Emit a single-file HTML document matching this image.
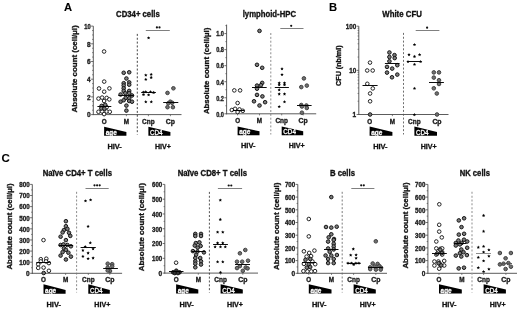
<!DOCTYPE html>
<html><head><meta charset="utf-8"><style>
html,body{margin:0;padding:0;background:#fff;width:520px;height:310px;overflow:hidden}
svg{display:block;font-family:"Liberation Sans", sans-serif;font-weight:bold;filter:blur(0.3px)}
text{stroke:#111;stroke-width:.32px;paint-order:stroke}
text.w{stroke:#fff;stroke-width:.3px}
text.p{stroke:#000;stroke-width:.1px}
</style></head><body>
<svg width="520" height="310" viewBox="0 0 520 310">
<line x1="93.3" y1="26.1" x2="93.3" y2="115.05" stroke="#4a4a4a" stroke-width="0.9"/>
<line x1="91.1" y1="114.6" x2="93.3" y2="114.6" stroke="#4a4a4a" stroke-width="0.8"/>
<text x="90.7" y="117.4" font-size="6.5" text-anchor="end" fill="#222">0</text>
<line x1="91.1" y1="96.9" x2="93.3" y2="96.9" stroke="#4a4a4a" stroke-width="0.8"/>
<text x="90.7" y="99.7" font-size="6.5" text-anchor="end" fill="#222">2</text>
<line x1="91.1" y1="79.2" x2="93.3" y2="79.2" stroke="#4a4a4a" stroke-width="0.8"/>
<text x="90.7" y="82" font-size="6.5" text-anchor="end" fill="#222">4</text>
<line x1="91.1" y1="61.5" x2="93.3" y2="61.5" stroke="#4a4a4a" stroke-width="0.8"/>
<text x="90.7" y="64.3" font-size="6.5" text-anchor="end" fill="#222">6</text>
<line x1="91.1" y1="43.8" x2="93.3" y2="43.8" stroke="#4a4a4a" stroke-width="0.8"/>
<text x="90.7" y="46.6" font-size="6.5" text-anchor="end" fill="#222">8</text>
<line x1="91.1" y1="26.1" x2="93.3" y2="26.1" stroke="#4a4a4a" stroke-width="0.8"/>
<text x="90.7" y="28.9" font-size="6.5" text-anchor="end" textLength="6.4" lengthAdjust="spacingAndGlyphs" fill="#222">10</text>
<line x1="92.1" y1="110.17" x2="93.3" y2="110.17" stroke="#4a4a4a" stroke-width="0.7"/>
<line x1="92.1" y1="105.75" x2="93.3" y2="105.75" stroke="#4a4a4a" stroke-width="0.7"/>
<line x1="92.1" y1="101.32" x2="93.3" y2="101.32" stroke="#4a4a4a" stroke-width="0.7"/>
<line x1="92.1" y1="92.47" x2="93.3" y2="92.47" stroke="#4a4a4a" stroke-width="0.7"/>
<line x1="92.1" y1="88.05" x2="93.3" y2="88.05" stroke="#4a4a4a" stroke-width="0.7"/>
<line x1="92.1" y1="83.62" x2="93.3" y2="83.62" stroke="#4a4a4a" stroke-width="0.7"/>
<line x1="92.1" y1="74.77" x2="93.3" y2="74.77" stroke="#4a4a4a" stroke-width="0.7"/>
<line x1="92.1" y1="70.35" x2="93.3" y2="70.35" stroke="#4a4a4a" stroke-width="0.7"/>
<line x1="92.1" y1="65.92" x2="93.3" y2="65.92" stroke="#4a4a4a" stroke-width="0.7"/>
<line x1="92.1" y1="57.07" x2="93.3" y2="57.07" stroke="#4a4a4a" stroke-width="0.7"/>
<line x1="92.1" y1="52.65" x2="93.3" y2="52.65" stroke="#4a4a4a" stroke-width="0.7"/>
<line x1="92.1" y1="48.22" x2="93.3" y2="48.22" stroke="#4a4a4a" stroke-width="0.7"/>
<line x1="92.1" y1="39.38" x2="93.3" y2="39.38" stroke="#4a4a4a" stroke-width="0.7"/>
<line x1="92.1" y1="34.95" x2="93.3" y2="34.95" stroke="#4a4a4a" stroke-width="0.7"/>
<line x1="92.1" y1="30.52" x2="93.3" y2="30.52" stroke="#4a4a4a" stroke-width="0.7"/>
<line x1="92.85" y1="114.6" x2="181.5" y2="114.6" stroke="#4a4a4a" stroke-width="0.9"/>
<line x1="104.1" y1="114.6" x2="104.1" y2="116.2" stroke="#4a4a4a" stroke-width="0.7"/>
<line x1="126.4" y1="114.6" x2="126.4" y2="116.2" stroke="#4a4a4a" stroke-width="0.7"/>
<line x1="148.4" y1="114.6" x2="148.4" y2="116.2" stroke="#4a4a4a" stroke-width="0.7"/>
<line x1="170.4" y1="114.6" x2="170.4" y2="116.2" stroke="#4a4a4a" stroke-width="0.7"/>
<text x="104.1" y="123.5" font-size="6.6" text-anchor="middle" textLength="4.9" lengthAdjust="spacingAndGlyphs" fill="#1a1a1a">O</text>
<text x="126.4" y="123.5" font-size="6.6" text-anchor="middle" textLength="5.3" lengthAdjust="spacingAndGlyphs" fill="#1a1a1a">M</text>
<text x="148.4" y="123.5" font-size="6.6" text-anchor="middle" textLength="12.6" lengthAdjust="spacingAndGlyphs" fill="#1a1a1a">Cnp</text>
<text x="170.4" y="123.5" font-size="6.6" text-anchor="middle" textLength="9.2" lengthAdjust="spacingAndGlyphs" fill="#1a1a1a">Cp</text>
<line x1="137.3" y1="33.9" x2="137.3" y2="134.5" stroke="#222" stroke-width="0.85" stroke-dasharray="2 1.85"/>
<polygon points="104.1,126.8 126.4,131.9 126.4,135.8 104.1,135.8" fill="#000"/>
<text x="105.7" y="134.8" font-size="7" textLength="11" lengthAdjust="spacingAndGlyphs" fill="#fff" class="w">age</text>
<polygon points="148.4,126.8 170.4,131.9 170.4,135.8 148.4,135.8" fill="#000"/>
<text x="150" y="134.9" font-size="7.2" textLength="12.6" lengthAdjust="spacingAndGlyphs" font-weight="normal" fill="#fff" class="w">CD4</text>
<text x="114.6" y="148.8" font-size="7.6" text-anchor="middle" textLength="14.4" lengthAdjust="spacingAndGlyphs" fill="#111">HIV-</text>
<text x="162.9" y="148.8" font-size="7.6" text-anchor="middle" textLength="16" lengthAdjust="spacingAndGlyphs" fill="#111">HIV+</text>
<line x1="145.8" y1="30.5" x2="169.8" y2="30.5" stroke="#555" stroke-width="0.75"/>
<circle cx="156.9" cy="27.4" r="1.1" fill="#111"/>
<circle cx="159.5" cy="27.4" r="1.1" fill="#111"/>
<text x="116.1" y="16.6" font-size="8.2" textLength="43.7" lengthAdjust="spacingAndGlyphs" fill="#111">CD34+ cells</text>
<text transform="translate(76.9,112.4) rotate(-90)" x="0" y="0" font-size="7.9" textLength="87.1" lengthAdjust="spacingAndGlyphs" fill="#111">Absolute count (cell/µl)</text>
<circle cx="104.1" cy="51.5" r="1.8" fill="#fff" stroke="#222" stroke-width="1.0"/>
<circle cx="104.2" cy="81.6" r="1.8" fill="#fff" stroke="#222" stroke-width="1.0"/>
<circle cx="99" cy="88.5" r="1.8" fill="#fff" stroke="#222" stroke-width="1.0"/>
<circle cx="109.4" cy="88.4" r="1.8" fill="#fff" stroke="#222" stroke-width="1.0"/>
<circle cx="104.2" cy="91.7" r="1.8" fill="#fff" stroke="#222" stroke-width="1.0"/>
<circle cx="98.5" cy="98.6" r="1.8" fill="#fff" stroke="#222" stroke-width="1.0"/>
<circle cx="102.1" cy="97.6" r="1.8" fill="#fff" stroke="#222" stroke-width="1.0"/>
<circle cx="106.7" cy="97.9" r="1.8" fill="#fff" stroke="#222" stroke-width="1.0"/>
<circle cx="109.3" cy="99.4" r="1.8" fill="#fff" stroke="#222" stroke-width="1.0"/>
<circle cx="104.1" cy="101" r="1.8" fill="#fff" stroke="#222" stroke-width="1.0"/>
<circle cx="106.7" cy="107.2" r="1.8" fill="#fff" stroke="#222" stroke-width="1.0"/>
<circle cx="98.5" cy="111.8" r="1.8" fill="#fff" stroke="#222" stroke-width="1.0"/>
<circle cx="102.1" cy="111.5" r="1.8" fill="#fff" stroke="#222" stroke-width="1.0"/>
<circle cx="106.7" cy="111.5" r="1.8" fill="#fff" stroke="#222" stroke-width="1.0"/>
<circle cx="109.8" cy="111.8" r="1.8" fill="#fff" stroke="#222" stroke-width="1.0"/>
<circle cx="104.1" cy="114.1" r="1.8" fill="#fff" stroke="#222" stroke-width="1.0"/>
<circle cx="123.7" cy="72.8" r="1.8" fill="#7c7c7c" stroke="#151515" stroke-width="1.0"/>
<circle cx="129.2" cy="72.3" r="1.8" fill="#7c7c7c" stroke="#151515" stroke-width="1.0"/>
<circle cx="126.4" cy="78.5" r="1.8" fill="#7c7c7c" stroke="#151515" stroke-width="1.0"/>
<circle cx="123.7" cy="83.2" r="1.8" fill="#7c7c7c" stroke="#151515" stroke-width="1.0"/>
<circle cx="129.2" cy="82.4" r="1.8" fill="#7c7c7c" stroke="#151515" stroke-width="1.0"/>
<circle cx="129.2" cy="84.7" r="1.8" fill="#7c7c7c" stroke="#151515" stroke-width="1.0"/>
<circle cx="123.7" cy="85.5" r="1.8" fill="#7c7c7c" stroke="#151515" stroke-width="1.0"/>
<circle cx="123.7" cy="88.3" r="1.8" fill="#7c7c7c" stroke="#151515" stroke-width="1.0"/>
<circle cx="123.7" cy="90.9" r="1.8" fill="#7c7c7c" stroke="#151515" stroke-width="1.0"/>
<circle cx="129.2" cy="90.9" r="1.8" fill="#7c7c7c" stroke="#151515" stroke-width="1.0"/>
<circle cx="129.2" cy="93.2" r="1.8" fill="#7c7c7c" stroke="#151515" stroke-width="1.0"/>
<circle cx="120.6" cy="94.5" r="1.8" fill="#7c7c7c" stroke="#151515" stroke-width="1.0"/>
<circle cx="125.3" cy="93.2" r="1.8" fill="#7c7c7c" stroke="#151515" stroke-width="1.0"/>
<circle cx="132" cy="95.5" r="1.8" fill="#7c7c7c" stroke="#151515" stroke-width="1.0"/>
<circle cx="125.7" cy="97.9" r="1.8" fill="#7c7c7c" stroke="#151515" stroke-width="1.0"/>
<circle cx="129.2" cy="98.2" r="1.8" fill="#7c7c7c" stroke="#151515" stroke-width="1.0"/>
<circle cx="120.6" cy="101.7" r="1.8" fill="#7c7c7c" stroke="#151515" stroke-width="1.0"/>
<circle cx="123.7" cy="100.2" r="1.8" fill="#7c7c7c" stroke="#151515" stroke-width="1.0"/>
<circle cx="129.2" cy="101" r="1.8" fill="#7c7c7c" stroke="#151515" stroke-width="1.0"/>
<circle cx="132" cy="101.7" r="1.8" fill="#7c7c7c" stroke="#151515" stroke-width="1.0"/>
<circle cx="126.4" cy="105.6" r="1.8" fill="#7c7c7c" stroke="#151515" stroke-width="1.0"/>
<circle cx="126.4" cy="110.6" r="1.8" fill="#7c7c7c" stroke="#151515" stroke-width="1.0"/>
<circle cx="101.6" cy="105.9" r="1.8" fill="#7c7c7c" stroke="#151515" stroke-width="1.0"/>
<circle cx="105.2" cy="104.8" r="1.8" fill="#7c7c7c" stroke="#151515" stroke-width="1.0"/>
<circle cx="101.3" cy="108.4" r="1.8" fill="#7c7c7c" stroke="#151515" stroke-width="1.0"/>
<circle cx="104.4" cy="108.7" r="1.8" fill="#7c7c7c" stroke="#151515" stroke-width="1.0"/>
<polygon points="148.6,36.2 149.1,37.26 150.26,37.41 149.41,38.21 149.63,39.37 148.6,38.8 147.57,39.37 147.79,38.21 146.94,37.41 148.1,37.26" fill="#000"/>
<polygon points="145.8,73.4 146.3,74.46 147.46,74.61 146.61,75.41 146.83,76.57 145.8,76 144.77,76.57 144.99,75.41 144.14,74.61 145.3,74.46" fill="#000"/>
<polygon points="151.2,72.7 151.7,73.76 152.86,73.91 152.01,74.71 152.23,75.87 151.2,75.3 150.17,75.87 150.39,74.71 149.54,73.91 150.7,73.76" fill="#000"/>
<polygon points="151.2,75.8 151.7,76.86 152.86,77.01 152.01,77.81 152.23,78.97 151.2,78.4 150.17,78.97 150.39,77.81 149.54,77.01 150.7,76.86" fill="#000"/>
<polygon points="145.8,77.7 146.3,78.76 147.46,78.91 146.61,79.71 146.83,80.87 145.8,80.3 144.77,80.87 144.99,79.71 144.14,78.91 145.3,78.76" fill="#000"/>
<polygon points="143.5,90.4 144,91.46 145.16,91.61 144.31,92.41 144.53,93.57 143.5,93 142.47,93.57 142.69,92.41 141.84,91.61 143,91.46" fill="#000"/>
<polygon points="145.8,90.1 146.3,91.16 147.46,91.31 146.61,92.11 146.83,93.27 145.8,92.7 144.77,93.27 144.99,92.11 144.14,91.31 145.3,91.16" fill="#000"/>
<polygon points="150.5,90.1 151,91.16 152.16,91.31 151.31,92.11 151.53,93.27 150.5,92.7 149.47,93.27 149.69,92.11 148.84,91.31 150,91.16" fill="#000"/>
<polygon points="153.6,90.8 154.1,91.86 155.26,92.01 154.41,92.81 154.63,93.97 153.6,93.4 152.57,93.97 152.79,92.81 151.94,92.01 153.1,91.86" fill="#000"/>
<polygon points="143.5,92.9 144,93.96 145.16,94.11 144.31,94.91 144.53,96.07 143.5,95.5 142.47,96.07 142.69,94.91 141.84,94.11 143,93.96" fill="#000"/>
<polygon points="148.6,93.2 149.1,94.26 150.26,94.41 149.41,95.21 149.63,96.37 148.6,95.8 147.57,96.37 147.79,95.21 146.94,94.41 148.1,94.26" fill="#000"/>
<polygon points="145.8,100.1 146.3,101.16 147.46,101.31 146.61,102.11 146.83,103.27 145.8,102.7 144.77,103.27 144.99,102.11 144.14,101.31 145.3,101.16" fill="#000"/>
<polygon points="151.3,100.1 151.8,101.16 152.96,101.31 152.11,102.11 152.33,103.27 151.3,102.7 150.27,103.27 150.49,102.11 149.64,101.31 150.8,101.16" fill="#000"/>
<circle cx="173.4" cy="88.3" r="1.8" fill="#707070" stroke="#404040" stroke-width="1.0"/>
<circle cx="167.5" cy="92.9" r="1.8" fill="#707070" stroke="#404040" stroke-width="1.0"/>
<circle cx="170.3" cy="101.7" r="1.8" fill="#707070" stroke="#404040" stroke-width="1.0"/>
<circle cx="168.3" cy="103.3" r="1.8" fill="#707070" stroke="#404040" stroke-width="1.0"/>
<circle cx="172.2" cy="102.8" r="1.8" fill="#707070" stroke="#404040" stroke-width="1.0"/>
<circle cx="167.5" cy="107.2" r="1.8" fill="#707070" stroke="#404040" stroke-width="1.0"/>
<circle cx="172.9" cy="107.2" r="1.8" fill="#707070" stroke="#404040" stroke-width="1.0"/>
<line x1="97.4" y1="106.5" x2="111.3" y2="106.5" stroke="#000" stroke-width="0.95"/>
<line x1="118.3" y1="95.5" x2="133.8" y2="95.5" stroke="#000" stroke-width="0.95"/>
<line x1="141.2" y1="92.5" x2="155.9" y2="92.5" stroke="#000" stroke-width="0.95"/>
<line x1="163.2" y1="102.5" x2="178.3" y2="102.5" stroke="#000" stroke-width="0.95"/>
<line x1="226.6" y1="24.6" x2="226.6" y2="114.25" stroke="#4a4a4a" stroke-width="0.9"/>
<line x1="224.4" y1="113.8" x2="226.6" y2="113.8" stroke="#4a4a4a" stroke-width="0.8"/>
<text x="224" y="116.6" font-size="6.5" text-anchor="end" textLength="7.8" lengthAdjust="spacingAndGlyphs" fill="#222">0.0</text>
<line x1="224.4" y1="97.76" x2="226.6" y2="97.76" stroke="#4a4a4a" stroke-width="0.8"/>
<text x="224" y="100.56" font-size="6.5" text-anchor="end" textLength="7.8" lengthAdjust="spacingAndGlyphs" fill="#222">0.2</text>
<line x1="224.4" y1="81.72" x2="226.6" y2="81.72" stroke="#4a4a4a" stroke-width="0.8"/>
<text x="224" y="84.52" font-size="6.5" text-anchor="end" textLength="7.8" lengthAdjust="spacingAndGlyphs" fill="#222">0.4</text>
<line x1="224.4" y1="65.68" x2="226.6" y2="65.68" stroke="#4a4a4a" stroke-width="0.8"/>
<text x="224" y="68.48" font-size="6.5" text-anchor="end" textLength="7.8" lengthAdjust="spacingAndGlyphs" fill="#222">0.6</text>
<line x1="224.4" y1="49.64" x2="226.6" y2="49.64" stroke="#4a4a4a" stroke-width="0.8"/>
<text x="224" y="52.44" font-size="6.5" text-anchor="end" textLength="7.8" lengthAdjust="spacingAndGlyphs" fill="#222">0.8</text>
<line x1="224.4" y1="33.6" x2="226.6" y2="33.6" stroke="#4a4a4a" stroke-width="0.8"/>
<text x="224" y="36.4" font-size="6.5" text-anchor="end" textLength="7.8" lengthAdjust="spacingAndGlyphs" fill="#222">1.0</text>
<line x1="225.4" y1="105.78" x2="226.6" y2="105.78" stroke="#4a4a4a" stroke-width="0.7"/>
<line x1="225.4" y1="89.74" x2="226.6" y2="89.74" stroke="#4a4a4a" stroke-width="0.7"/>
<line x1="225.4" y1="73.7" x2="226.6" y2="73.7" stroke="#4a4a4a" stroke-width="0.7"/>
<line x1="225.4" y1="57.66" x2="226.6" y2="57.66" stroke="#4a4a4a" stroke-width="0.7"/>
<line x1="225.4" y1="41.62" x2="226.6" y2="41.62" stroke="#4a4a4a" stroke-width="0.7"/>
<line x1="225.4" y1="25.58" x2="226.6" y2="25.58" stroke="#4a4a4a" stroke-width="0.7"/>
<line x1="226.15" y1="113.8" x2="316.2" y2="113.8" stroke="#4a4a4a" stroke-width="0.9"/>
<line x1="237.6" y1="113.8" x2="237.6" y2="115.4" stroke="#4a4a4a" stroke-width="0.7"/>
<line x1="259.5" y1="113.8" x2="259.5" y2="115.4" stroke="#4a4a4a" stroke-width="0.7"/>
<line x1="281.7" y1="113.8" x2="281.7" y2="115.4" stroke="#4a4a4a" stroke-width="0.7"/>
<line x1="303.2" y1="113.8" x2="303.2" y2="115.4" stroke="#4a4a4a" stroke-width="0.7"/>
<text x="237.6" y="122.7" font-size="6.6" text-anchor="middle" textLength="4.9" lengthAdjust="spacingAndGlyphs" fill="#1a1a1a">O</text>
<text x="259.5" y="122.7" font-size="6.6" text-anchor="middle" textLength="5.3" lengthAdjust="spacingAndGlyphs" fill="#1a1a1a">M</text>
<text x="281.7" y="122.7" font-size="6.6" text-anchor="middle" textLength="12.6" lengthAdjust="spacingAndGlyphs" fill="#1a1a1a">Cnp</text>
<text x="303.2" y="122.7" font-size="6.6" text-anchor="middle" textLength="9.2" lengthAdjust="spacingAndGlyphs" fill="#1a1a1a">Cp</text>
<line x1="270.8" y1="33" x2="270.8" y2="134.5" stroke="#777" stroke-width="0.85" stroke-dasharray="2 1.85"/>
<polygon points="237.6,126.5 259.5,131.3 259.5,135.2 237.6,135.2" fill="#000"/>
<text x="239.2" y="134.2" font-size="7" textLength="11" lengthAdjust="spacingAndGlyphs" fill="#fff" class="w">age</text>
<polygon points="281.7,126.5 303.2,131.3 303.2,135.2 281.7,135.2" fill="#000"/>
<text x="283.3" y="134.3" font-size="7.2" textLength="12.6" lengthAdjust="spacingAndGlyphs" font-weight="normal" fill="#fff" class="w">CD4</text>
<text x="248.2" y="148.2" font-size="7.6" text-anchor="middle" textLength="14.4" lengthAdjust="spacingAndGlyphs" fill="#111">HIV-</text>
<text x="296.7" y="148.2" font-size="7.6" text-anchor="middle" textLength="16" lengthAdjust="spacingAndGlyphs" fill="#111">HIV+</text>
<line x1="280.3" y1="28.5" x2="303.5" y2="28.5" stroke="#555" stroke-width="0.75"/>
<circle cx="291.2" cy="25.8" r="1.1" fill="#111"/>
<text x="242.7" y="16.9" font-size="8.2" textLength="53.3" lengthAdjust="spacingAndGlyphs" fill="#111">lymphoid-HPC</text>
<text transform="translate(209.2,114.1) rotate(-90)" x="0" y="0" font-size="7.9" textLength="86.5" lengthAdjust="spacingAndGlyphs" fill="#111">Absolute count (cell/µl)</text>
<circle cx="234.3" cy="90.4" r="1.8" fill="#fff" stroke="#222" stroke-width="1.0"/>
<circle cx="240.1" cy="90.4" r="1.8" fill="#fff" stroke="#222" stroke-width="1.0"/>
<circle cx="237.6" cy="103" r="1.8" fill="#fff" stroke="#222" stroke-width="1.0"/>
<circle cx="231.8" cy="110" r="1.8" fill="#fff" stroke="#222" stroke-width="1.0"/>
<circle cx="235.1" cy="108.8" r="1.8" fill="#fff" stroke="#222" stroke-width="1.0"/>
<circle cx="239.5" cy="109.4" r="1.8" fill="#fff" stroke="#222" stroke-width="1.0"/>
<circle cx="242.8" cy="110.8" r="1.8" fill="#fff" stroke="#222" stroke-width="1.0"/>
<circle cx="237.6" cy="112" r="1.8" fill="#fff" stroke="#222" stroke-width="1.0"/>
<circle cx="259.5" cy="30.9" r="1.8" fill="#7c7c7c" stroke="#151515" stroke-width="1.0"/>
<circle cx="257" cy="64.8" r="1.8" fill="#7c7c7c" stroke="#151515" stroke-width="1.0"/>
<circle cx="262.2" cy="67.8" r="1.8" fill="#7c7c7c" stroke="#151515" stroke-width="1.0"/>
<circle cx="262.2" cy="82.9" r="1.8" fill="#7c7c7c" stroke="#151515" stroke-width="1.0"/>
<circle cx="257" cy="85.6" r="1.8" fill="#7c7c7c" stroke="#151515" stroke-width="1.0"/>
<circle cx="260.9" cy="85.2" r="1.8" fill="#7c7c7c" stroke="#151515" stroke-width="1.0"/>
<circle cx="257" cy="88.7" r="1.8" fill="#7c7c7c" stroke="#151515" stroke-width="1.0"/>
<circle cx="257" cy="94.9" r="1.8" fill="#7c7c7c" stroke="#151515" stroke-width="1.0"/>
<circle cx="262.4" cy="96.4" r="1.8" fill="#7c7c7c" stroke="#151515" stroke-width="1.0"/>
<circle cx="254" cy="101.3" r="1.8" fill="#7c7c7c" stroke="#151515" stroke-width="1.0"/>
<circle cx="265.1" cy="102.2" r="1.8" fill="#7c7c7c" stroke="#151515" stroke-width="1.0"/>
<circle cx="259.5" cy="105.5" r="1.8" fill="#7c7c7c" stroke="#151515" stroke-width="1.0"/>
<polygon points="282,67.1 282.5,68.16 283.66,68.31 282.81,69.11 283.03,70.27 282,69.7 280.97,70.27 281.19,69.11 280.34,68.31 281.5,68.16" fill="#000"/>
<polygon points="282,72.9 282.5,73.96 283.66,74.11 282.81,74.91 283.03,76.07 282,75.5 280.97,76.07 281.19,74.91 280.34,74.11 281.5,73.96" fill="#000"/>
<polygon points="279.2,81.3 279.7,82.36 280.86,82.51 280.01,83.31 280.23,84.47 279.2,83.9 278.17,84.47 278.39,83.31 277.54,82.51 278.7,82.36" fill="#000"/>
<polygon points="284.5,81.3 285,82.36 286.16,82.51 285.31,83.31 285.53,84.47 284.5,83.9 283.47,84.47 283.69,83.31 282.84,82.51 284,82.36" fill="#000"/>
<polygon points="279.2,83.2 279.7,84.26 280.86,84.41 280.01,85.21 280.23,86.37 279.2,85.8 278.17,86.37 278.39,85.21 277.54,84.41 278.7,84.26" fill="#000"/>
<polygon points="284.5,83.2 285,84.26 286.16,84.41 285.31,85.21 285.53,86.37 284.5,85.8 283.47,86.37 283.69,85.21 282.84,84.41 284,84.26" fill="#000"/>
<polygon points="279.2,88.1 279.7,89.16 280.86,89.31 280.01,90.11 280.23,91.27 279.2,90.7 278.17,91.27 278.39,90.11 277.54,89.31 278.7,89.16" fill="#000"/>
<polygon points="279.2,92.3 279.7,93.36 280.86,93.51 280.01,94.31 280.23,95.47 279.2,94.9 278.17,95.47 278.39,94.31 277.54,93.51 278.7,93.36" fill="#000"/>
<polygon points="284.5,92.3 285,93.36 286.16,93.51 285.31,94.31 285.53,95.47 284.5,94.9 283.47,95.47 283.69,94.31 282.84,93.51 284,93.36" fill="#000"/>
<polygon points="284.5,100.1 285,101.16 286.16,101.31 285.31,102.11 285.53,103.27 284.5,102.7 283.47,103.27 283.69,102.11 282.84,101.31 284,101.16" fill="#000"/>
<polygon points="279.2,104.9 279.7,105.96 280.86,106.11 280.01,106.91 280.23,108.07 279.2,107.5 278.17,108.07 278.39,106.91 277.54,106.11 278.7,105.96" fill="#000"/>
<circle cx="303.9" cy="78.4" r="1.8" fill="#707070" stroke="#404040" stroke-width="1.0"/>
<circle cx="301.3" cy="87.1" r="1.8" fill="#707070" stroke="#404040" stroke-width="1.0"/>
<circle cx="306.8" cy="85.6" r="1.8" fill="#707070" stroke="#404040" stroke-width="1.0"/>
<circle cx="301.3" cy="105" r="1.8" fill="#707070" stroke="#404040" stroke-width="1.0"/>
<circle cx="306.4" cy="105.5" r="1.8" fill="#707070" stroke="#404040" stroke-width="1.0"/>
<circle cx="306.8" cy="108" r="1.8" fill="#707070" stroke="#404040" stroke-width="1.0"/>
<circle cx="301.9" cy="106.5" r="1.8" fill="#707070" stroke="#404040" stroke-width="1.0"/>
<circle cx="301.9" cy="112.7" r="1.8" fill="#707070" stroke="#404040" stroke-width="1.0"/>
<line x1="232.8" y1="110.5" x2="244.4" y2="110.5" stroke="#000" stroke-width="0.95"/>
<line x1="252" y1="87.5" x2="266.7" y2="87.5" stroke="#000" stroke-width="0.95"/>
<line x1="274.8" y1="87.5" x2="288.9" y2="87.5" stroke="#000" stroke-width="0.95"/>
<line x1="297" y1="105.5" x2="311.6" y2="105.5" stroke="#000" stroke-width="0.95"/>
<line x1="358.8" y1="26.2" x2="358.8" y2="114.95" stroke="#4a4a4a" stroke-width="0.9"/>
<line x1="356.6" y1="114.5" x2="358.8" y2="114.5" stroke="#4a4a4a" stroke-width="0.8"/>
<text x="356.2" y="117.3" font-size="6.5" text-anchor="end" fill="#222">1</text>
<line x1="356.6" y1="70.35" x2="358.8" y2="70.35" stroke="#4a4a4a" stroke-width="0.8"/>
<text x="356.2" y="73.15" font-size="6.5" text-anchor="end" textLength="7" lengthAdjust="spacingAndGlyphs" fill="#222">10</text>
<line x1="356.6" y1="26.2" x2="358.8" y2="26.2" stroke="#4a4a4a" stroke-width="0.8"/>
<text x="356.2" y="29" font-size="6.5" text-anchor="end" textLength="10.5" lengthAdjust="spacingAndGlyphs" fill="#222">100</text>
<line x1="357.6" y1="101.21" x2="358.8" y2="101.21" stroke="#4a4a4a" stroke-width="0.7"/>
<line x1="357.6" y1="93.44" x2="358.8" y2="93.44" stroke="#4a4a4a" stroke-width="0.7"/>
<line x1="357.6" y1="87.92" x2="358.8" y2="87.92" stroke="#4a4a4a" stroke-width="0.7"/>
<line x1="357.6" y1="83.64" x2="358.8" y2="83.64" stroke="#4a4a4a" stroke-width="0.7"/>
<line x1="357.6" y1="80.14" x2="358.8" y2="80.14" stroke="#4a4a4a" stroke-width="0.7"/>
<line x1="357.6" y1="77.19" x2="358.8" y2="77.19" stroke="#4a4a4a" stroke-width="0.7"/>
<line x1="357.6" y1="74.63" x2="358.8" y2="74.63" stroke="#4a4a4a" stroke-width="0.7"/>
<line x1="357.6" y1="72.37" x2="358.8" y2="72.37" stroke="#4a4a4a" stroke-width="0.7"/>
<line x1="357.6" y1="57.06" x2="358.8" y2="57.06" stroke="#4a4a4a" stroke-width="0.7"/>
<line x1="357.6" y1="49.29" x2="358.8" y2="49.29" stroke="#4a4a4a" stroke-width="0.7"/>
<line x1="357.6" y1="43.77" x2="358.8" y2="43.77" stroke="#4a4a4a" stroke-width="0.7"/>
<line x1="357.6" y1="39.49" x2="358.8" y2="39.49" stroke="#4a4a4a" stroke-width="0.7"/>
<line x1="357.6" y1="35.99" x2="358.8" y2="35.99" stroke="#4a4a4a" stroke-width="0.7"/>
<line x1="357.6" y1="33.04" x2="358.8" y2="33.04" stroke="#4a4a4a" stroke-width="0.7"/>
<line x1="357.6" y1="30.48" x2="358.8" y2="30.48" stroke="#4a4a4a" stroke-width="0.7"/>
<line x1="357.6" y1="28.22" x2="358.8" y2="28.22" stroke="#4a4a4a" stroke-width="0.7"/>
<line x1="358.35" y1="114.5" x2="448.5" y2="114.5" stroke="#4a4a4a" stroke-width="0.9"/>
<line x1="369.6" y1="114.5" x2="369.6" y2="116.1" stroke="#4a4a4a" stroke-width="0.7"/>
<line x1="392.4" y1="114.5" x2="392.4" y2="116.1" stroke="#4a4a4a" stroke-width="0.7"/>
<line x1="414.4" y1="114.5" x2="414.4" y2="116.1" stroke="#4a4a4a" stroke-width="0.7"/>
<line x1="437" y1="114.5" x2="437" y2="116.1" stroke="#4a4a4a" stroke-width="0.7"/>
<text x="369.6" y="123.9" font-size="6.6" text-anchor="middle" textLength="4.9" lengthAdjust="spacingAndGlyphs" fill="#1a1a1a">O</text>
<text x="392.4" y="123.9" font-size="6.6" text-anchor="middle" textLength="5.3" lengthAdjust="spacingAndGlyphs" fill="#1a1a1a">M</text>
<text x="414.4" y="123.9" font-size="6.6" text-anchor="middle" textLength="12.6" lengthAdjust="spacingAndGlyphs" fill="#1a1a1a">Cnp</text>
<text x="437" y="123.9" font-size="6.6" text-anchor="middle" textLength="9.2" lengthAdjust="spacingAndGlyphs" fill="#1a1a1a">Cp</text>
<line x1="403.5" y1="32.9" x2="403.5" y2="134.5" stroke="#555" stroke-width="0.85" stroke-dasharray="2 1.85"/>
<polygon points="369.6,126.6 392.4,131.9 392.4,135.8 369.6,135.8" fill="#000"/>
<text x="371.2" y="134.8" font-size="7" textLength="11" lengthAdjust="spacingAndGlyphs" fill="#fff" class="w">age</text>
<polygon points="414.4,126.6 437,131.9 437,135.8 414.4,135.8" fill="#000"/>
<text x="416" y="134.9" font-size="7.2" textLength="12.6" lengthAdjust="spacingAndGlyphs" font-weight="normal" fill="#fff" class="w">CD4</text>
<text x="380.4" y="148.5" font-size="7.6" text-anchor="middle" textLength="14.4" lengthAdjust="spacingAndGlyphs" fill="#111">HIV-</text>
<text x="428.7" y="148.5" font-size="7.6" text-anchor="middle" textLength="16" lengthAdjust="spacingAndGlyphs" fill="#111">HIV+</text>
<line x1="415.7" y1="30.5" x2="439.4" y2="30.5" stroke="#555" stroke-width="0.75"/>
<circle cx="427.1" cy="27.7" r="1.1" fill="#111"/>
<text x="382.3" y="16.5" font-size="8.2" textLength="39.5" lengthAdjust="spacingAndGlyphs" fill="#111">White CFU</text>
<text transform="translate(340.7,85.9) rotate(-90)" x="0" y="0" font-size="7.9" textLength="40.5" lengthAdjust="spacingAndGlyphs" fill="#111">CFU (nb/ml)</text>
<circle cx="370" cy="62.6" r="1.8" fill="#fff" stroke="#222" stroke-width="1.0"/>
<circle cx="367.2" cy="70.5" r="1.8" fill="#fff" stroke="#222" stroke-width="1.0"/>
<circle cx="372.7" cy="70.5" r="1.8" fill="#fff" stroke="#222" stroke-width="1.0"/>
<circle cx="367.3" cy="83.8" r="1.8" fill="#fff" stroke="#222" stroke-width="1.0"/>
<circle cx="372.8" cy="88.4" r="1.8" fill="#fff" stroke="#222" stroke-width="1.0"/>
<circle cx="370.1" cy="93.5" r="1.8" fill="#fff" stroke="#222" stroke-width="1.0"/>
<circle cx="370.1" cy="101.3" r="1.8" fill="#fff" stroke="#222" stroke-width="1.0"/>
<circle cx="370.1" cy="114.5" r="1.8" fill="#7c7c7c" stroke="#151515" stroke-width="1.0"/>
<circle cx="389.4" cy="52.5" r="1.8" fill="#7c7c7c" stroke="#151515" stroke-width="1.0"/>
<circle cx="389.4" cy="57" r="1.8" fill="#7c7c7c" stroke="#151515" stroke-width="1.0"/>
<circle cx="389.4" cy="61.3" r="1.8" fill="#7c7c7c" stroke="#151515" stroke-width="1.0"/>
<circle cx="394.5" cy="55.1" r="1.8" fill="#7c7c7c" stroke="#151515" stroke-width="1.0"/>
<circle cx="394.7" cy="58.1" r="1.8" fill="#7c7c7c" stroke="#151515" stroke-width="1.0"/>
<circle cx="387" cy="66.9" r="1.8" fill="#7c7c7c" stroke="#151515" stroke-width="1.0"/>
<circle cx="397.3" cy="65.2" r="1.8" fill="#7c7c7c" stroke="#151515" stroke-width="1.0"/>
<circle cx="392.2" cy="68.6" r="1.8" fill="#7c7c7c" stroke="#151515" stroke-width="1.0"/>
<circle cx="387" cy="72.6" r="1.8" fill="#7c7c7c" stroke="#151515" stroke-width="1.0"/>
<circle cx="397.3" cy="74.6" r="1.8" fill="#7c7c7c" stroke="#151515" stroke-width="1.0"/>
<circle cx="392" cy="77.3" r="1.8" fill="#7c7c7c" stroke="#151515" stroke-width="1.0"/>
<polygon points="414.5,42.9 415,43.96 416.16,44.11 415.31,44.91 415.53,46.07 414.5,45.5 413.47,46.07 413.69,44.91 412.84,44.11 414,43.96" fill="#000"/>
<polygon points="409,53 409.5,54.06 410.66,54.21 409.81,55.01 410.03,56.17 409,55.6 407.97,56.17 408.19,55.01 407.34,54.21 408.5,54.06" fill="#000"/>
<polygon points="414.5,54.8 415,55.86 416.16,56.01 415.31,56.81 415.53,57.97 414.5,57.4 413.47,57.97 413.69,56.81 412.84,56.01 414,55.86" fill="#000"/>
<polygon points="419.6,53 420.1,54.06 421.26,54.21 420.41,55.01 420.63,56.17 419.6,55.6 418.57,56.17 418.79,55.01 417.94,54.21 419.1,54.06" fill="#000"/>
<polygon points="408,59.9 408.5,60.96 409.66,61.11 408.81,61.91 409.03,63.07 408,62.5 406.97,63.07 407.19,61.91 406.34,61.11 407.5,60.96" fill="#000"/>
<polygon points="420.6,59.9 421.1,60.96 422.26,61.11 421.41,61.91 421.63,63.07 420.6,62.5 419.57,63.07 419.79,61.91 418.94,61.11 420.1,60.96" fill="#000"/>
<polygon points="414.5,62.7 415,63.76 416.16,63.91 415.31,64.71 415.53,65.87 414.5,65.3 413.47,65.87 413.69,64.71 412.84,63.91 414,63.76" fill="#000"/>
<polygon points="414.5,86.7 415,87.76 416.16,87.91 415.31,88.71 415.53,89.87 414.5,89.3 413.47,89.87 413.69,88.71 412.84,87.91 414,87.76" fill="#000"/>
<polygon points="414.4,112.9 414.9,113.96 416.06,114.11 415.21,114.91 415.43,116.07 414.4,115.5 413.37,116.07 413.59,114.91 412.74,114.11 413.9,113.96" fill="#000"/>
<circle cx="433.8" cy="72.4" r="1.8" fill="#707070" stroke="#404040" stroke-width="1.0"/>
<circle cx="439" cy="72.4" r="1.8" fill="#707070" stroke="#404040" stroke-width="1.0"/>
<circle cx="433.8" cy="77.6" r="1.8" fill="#707070" stroke="#404040" stroke-width="1.0"/>
<circle cx="439" cy="80.2" r="1.8" fill="#707070" stroke="#404040" stroke-width="1.0"/>
<circle cx="439" cy="84" r="1.8" fill="#707070" stroke="#404040" stroke-width="1.0"/>
<circle cx="433.8" cy="88.3" r="1.8" fill="#707070" stroke="#404040" stroke-width="1.0"/>
<circle cx="436.8" cy="93.5" r="1.8" fill="#707070" stroke="#404040" stroke-width="1.0"/>
<circle cx="437" cy="114.5" r="1.8" fill="#707070" stroke="#404040" stroke-width="1.0"/>
<line x1="362.5" y1="85.5" x2="377.6" y2="85.5" stroke="#000" stroke-width="0.95"/>
<line x1="384.9" y1="63.5" x2="399.6" y2="63.5" stroke="#000" stroke-width="0.95"/>
<line x1="407.1" y1="61.5" x2="421.3" y2="61.5" stroke="#000" stroke-width="0.95"/>
<line x1="429" y1="82.5" x2="443.9" y2="82.5" stroke="#000" stroke-width="0.95"/>
<line x1="32.3" y1="184.4" x2="32.3" y2="273.75" stroke="#4a4a4a" stroke-width="0.9"/>
<line x1="30.1" y1="273.3" x2="32.3" y2="273.3" stroke="#4a4a4a" stroke-width="0.8"/>
<text x="29.7" y="276.1" font-size="6.5" text-anchor="end" fill="#222">0</text>
<line x1="30.1" y1="262.19" x2="32.3" y2="262.19" stroke="#4a4a4a" stroke-width="0.8"/>
<text x="29.7" y="264.99" font-size="6.5" text-anchor="end" textLength="10.4" lengthAdjust="spacingAndGlyphs" fill="#222">100</text>
<line x1="30.1" y1="251.08" x2="32.3" y2="251.08" stroke="#4a4a4a" stroke-width="0.8"/>
<text x="29.7" y="253.88" font-size="6.5" text-anchor="end" textLength="10.4" lengthAdjust="spacingAndGlyphs" fill="#222">200</text>
<line x1="30.1" y1="239.96" x2="32.3" y2="239.96" stroke="#4a4a4a" stroke-width="0.8"/>
<text x="29.7" y="242.76" font-size="6.5" text-anchor="end" textLength="10.4" lengthAdjust="spacingAndGlyphs" fill="#222">300</text>
<line x1="30.1" y1="228.85" x2="32.3" y2="228.85" stroke="#4a4a4a" stroke-width="0.8"/>
<text x="29.7" y="231.65" font-size="6.5" text-anchor="end" textLength="10.4" lengthAdjust="spacingAndGlyphs" fill="#222">400</text>
<line x1="30.1" y1="217.74" x2="32.3" y2="217.74" stroke="#4a4a4a" stroke-width="0.8"/>
<text x="29.7" y="220.54" font-size="6.5" text-anchor="end" textLength="10.4" lengthAdjust="spacingAndGlyphs" fill="#222">500</text>
<line x1="30.1" y1="206.62" x2="32.3" y2="206.62" stroke="#4a4a4a" stroke-width="0.8"/>
<text x="29.7" y="209.43" font-size="6.5" text-anchor="end" textLength="10.4" lengthAdjust="spacingAndGlyphs" fill="#222">600</text>
<line x1="30.1" y1="195.51" x2="32.3" y2="195.51" stroke="#4a4a4a" stroke-width="0.8"/>
<text x="29.7" y="198.31" font-size="6.5" text-anchor="end" textLength="10.4" lengthAdjust="spacingAndGlyphs" fill="#222">700</text>
<line x1="30.1" y1="184.4" x2="32.3" y2="184.4" stroke="#4a4a4a" stroke-width="0.8"/>
<text x="29.7" y="187.2" font-size="6.5" text-anchor="end" textLength="10.4" lengthAdjust="spacingAndGlyphs" fill="#222">800</text>
<line x1="31.1" y1="267.74" x2="32.3" y2="267.74" stroke="#4a4a4a" stroke-width="0.7"/>
<line x1="31.1" y1="256.63" x2="32.3" y2="256.63" stroke="#4a4a4a" stroke-width="0.7"/>
<line x1="31.1" y1="245.52" x2="32.3" y2="245.52" stroke="#4a4a4a" stroke-width="0.7"/>
<line x1="31.1" y1="234.41" x2="32.3" y2="234.41" stroke="#4a4a4a" stroke-width="0.7"/>
<line x1="31.1" y1="223.29" x2="32.3" y2="223.29" stroke="#4a4a4a" stroke-width="0.7"/>
<line x1="31.1" y1="212.18" x2="32.3" y2="212.18" stroke="#4a4a4a" stroke-width="0.7"/>
<line x1="31.1" y1="201.07" x2="32.3" y2="201.07" stroke="#4a4a4a" stroke-width="0.7"/>
<line x1="31.1" y1="189.96" x2="32.3" y2="189.96" stroke="#4a4a4a" stroke-width="0.7"/>
<line x1="31.85" y1="273.3" x2="122.1" y2="273.3" stroke="#4a4a4a" stroke-width="0.9"/>
<line x1="43.5" y1="273.3" x2="43.5" y2="274.9" stroke="#4a4a4a" stroke-width="0.7"/>
<line x1="65.6" y1="273.3" x2="65.6" y2="274.9" stroke="#4a4a4a" stroke-width="0.7"/>
<line x1="88.3" y1="273.3" x2="88.3" y2="274.9" stroke="#4a4a4a" stroke-width="0.7"/>
<line x1="109.8" y1="273.3" x2="109.8" y2="274.9" stroke="#4a4a4a" stroke-width="0.7"/>
<text x="43.5" y="281.6" font-size="6.6" text-anchor="middle" textLength="4.9" lengthAdjust="spacingAndGlyphs" fill="#1a1a1a">O</text>
<text x="65.6" y="281.6" font-size="6.6" text-anchor="middle" textLength="5.3" lengthAdjust="spacingAndGlyphs" fill="#1a1a1a">M</text>
<text x="88.3" y="281.6" font-size="6.6" text-anchor="middle" textLength="12.6" lengthAdjust="spacingAndGlyphs" fill="#1a1a1a">Cnp</text>
<text x="109.8" y="281.6" font-size="6.6" text-anchor="middle" textLength="9.2" lengthAdjust="spacingAndGlyphs" fill="#1a1a1a">Cp</text>
<line x1="76.6" y1="191.8" x2="76.6" y2="292.5" stroke="#777" stroke-width="0.85" stroke-dasharray="2 1.85"/>
<polygon points="43.5,284.2 65.6,289.9 65.6,293.8 43.5,293.8" fill="#000"/>
<text x="45.1" y="292.8" font-size="7" textLength="11" lengthAdjust="spacingAndGlyphs" fill="#fff" class="w">age</text>
<polygon points="88.3,284.2 109.8,289.9 109.8,293.8 88.3,293.8" fill="#000"/>
<text x="89.9" y="292.9" font-size="7.2" textLength="12.6" lengthAdjust="spacingAndGlyphs" font-weight="normal" fill="#fff" class="w">CD4</text>
<text x="53.7" y="307.3" font-size="7.6" text-anchor="middle" textLength="14.4" lengthAdjust="spacingAndGlyphs" fill="#111">HIV-</text>
<text x="102.3" y="307.3" font-size="7.6" text-anchor="middle" textLength="16" lengthAdjust="spacingAndGlyphs" fill="#111">HIV+</text>
<line x1="85.5" y1="188.5" x2="108.7" y2="188.5" stroke="#555" stroke-width="0.75"/>
<circle cx="94.5" cy="185.3" r="1.1" fill="#111"/>
<circle cx="97.1" cy="185.3" r="1.1" fill="#111"/>
<circle cx="99.7" cy="185.3" r="1.1" fill="#111"/>
<text x="42.7" y="175.9" font-size="8.2" textLength="69.3" lengthAdjust="spacingAndGlyphs" fill="#111">Naïve CD4+ T cells</text>
<text transform="translate(12.4,269.6) rotate(-90)" x="0" y="0" font-size="7.9" textLength="86.1" lengthAdjust="spacingAndGlyphs" fill="#111">Absolute count (cell/µl)</text>
<circle cx="48.9" cy="263.1" r="1.8" fill="#fff" stroke="#222" stroke-width="1.0"/>
<circle cx="43.5" cy="240.1" r="1.8" fill="#fff" stroke="#222" stroke-width="1.0"/>
<circle cx="40.8" cy="259.2" r="1.8" fill="#fff" stroke="#222" stroke-width="1.0"/>
<circle cx="46.3" cy="258.7" r="1.8" fill="#fff" stroke="#222" stroke-width="1.0"/>
<circle cx="40.8" cy="261.4" r="1.8" fill="#fff" stroke="#222" stroke-width="1.0"/>
<circle cx="46" cy="261.4" r="1.8" fill="#fff" stroke="#222" stroke-width="1.0"/>
<circle cx="38.2" cy="264.3" r="1.8" fill="#fff" stroke="#222" stroke-width="1.0"/>
<circle cx="38.2" cy="267.9" r="1.8" fill="#fff" stroke="#222" stroke-width="1.0"/>
<circle cx="43.6" cy="267.6" r="1.8" fill="#fff" stroke="#222" stroke-width="1.0"/>
<circle cx="48.9" cy="270.8" r="1.8" fill="#fff" stroke="#222" stroke-width="1.0"/>
<circle cx="65.9" cy="221.2" r="1.8" fill="#7c7c7c" stroke="#151515" stroke-width="1.0"/>
<circle cx="65.9" cy="226.2" r="1.8" fill="#7c7c7c" stroke="#151515" stroke-width="1.0"/>
<circle cx="67.4" cy="228.9" r="1.8" fill="#7c7c7c" stroke="#151515" stroke-width="1.0"/>
<circle cx="63.9" cy="230.1" r="1.8" fill="#7c7c7c" stroke="#151515" stroke-width="1.0"/>
<circle cx="62.6" cy="232.4" r="1.8" fill="#7c7c7c" stroke="#151515" stroke-width="1.0"/>
<circle cx="69" cy="232.8" r="1.8" fill="#7c7c7c" stroke="#151515" stroke-width="1.0"/>
<circle cx="60.6" cy="236.7" r="1.8" fill="#7c7c7c" stroke="#151515" stroke-width="1.0"/>
<circle cx="70.3" cy="235.9" r="1.8" fill="#7c7c7c" stroke="#151515" stroke-width="1.0"/>
<circle cx="65.9" cy="240.1" r="1.8" fill="#7c7c7c" stroke="#151515" stroke-width="1.0"/>
<circle cx="60.6" cy="245" r="1.8" fill="#7c7c7c" stroke="#151515" stroke-width="1.0"/>
<circle cx="63.5" cy="244.4" r="1.8" fill="#7c7c7c" stroke="#151515" stroke-width="1.0"/>
<circle cx="67.4" cy="245" r="1.8" fill="#7c7c7c" stroke="#151515" stroke-width="1.0"/>
<circle cx="70.9" cy="246.3" r="1.8" fill="#7c7c7c" stroke="#151515" stroke-width="1.0"/>
<circle cx="63.9" cy="248.3" r="1.8" fill="#7c7c7c" stroke="#151515" stroke-width="1.0"/>
<circle cx="65.9" cy="249.8" r="1.8" fill="#7c7c7c" stroke="#151515" stroke-width="1.0"/>
<circle cx="62.6" cy="252.1" r="1.8" fill="#7c7c7c" stroke="#151515" stroke-width="1.0"/>
<circle cx="68.4" cy="252.7" r="1.8" fill="#7c7c7c" stroke="#151515" stroke-width="1.0"/>
<circle cx="60.6" cy="255.6" r="1.8" fill="#7c7c7c" stroke="#151515" stroke-width="1.0"/>
<circle cx="70.9" cy="256.6" r="1.8" fill="#7c7c7c" stroke="#151515" stroke-width="1.0"/>
<circle cx="65.9" cy="259.5" r="1.8" fill="#7c7c7c" stroke="#151515" stroke-width="1.0"/>
<circle cx="43.7" cy="273" r="1.8" fill="#7c7c7c" stroke="#151515" stroke-width="1.0"/>
<polygon points="85.5,199.2 86,200.26 87.16,200.41 86.31,201.21 86.53,202.37 85.5,201.8 84.47,202.37 84.69,201.21 83.84,200.41 85,200.26" fill="#000"/>
<polygon points="90.6,198.2 91.1,199.26 92.26,199.41 91.41,200.21 91.63,201.37 90.6,200.8 89.57,201.37 89.79,200.21 88.94,199.41 90.1,199.26" fill="#000"/>
<polygon points="88.1,224.7 88.6,225.76 89.76,225.91 88.91,226.71 89.13,227.87 88.1,227.3 87.07,227.87 87.29,226.71 86.44,225.91 87.6,225.76" fill="#000"/>
<polygon points="90.3,241.1 90.8,242.16 91.96,242.31 91.11,243.11 91.33,244.27 90.3,243.7 89.27,244.27 89.49,243.11 88.64,242.31 89.8,242.16" fill="#000"/>
<polygon points="85.2,245 85.7,246.06 86.86,246.21 86.01,247.01 86.23,248.17 85.2,247.6 84.17,248.17 84.39,247.01 83.54,246.21 84.7,246.06" fill="#000"/>
<polygon points="82.9,248.6 83.4,249.66 84.56,249.81 83.71,250.61 83.93,251.77 82.9,251.2 81.87,251.77 82.09,250.61 81.24,249.81 82.4,249.66" fill="#000"/>
<polygon points="93.1,247.2 93.6,248.26 94.76,248.41 93.91,249.21 94.13,250.37 93.1,249.8 92.07,250.37 92.29,249.21 91.44,248.41 92.6,248.26" fill="#000"/>
<polygon points="88.1,251.3 88.6,252.36 89.76,252.51 88.91,253.31 89.13,254.47 88.1,253.9 87.07,254.47 87.29,253.31 86.44,252.51 87.6,252.36" fill="#000"/>
<polygon points="82.9,254.7 83.4,255.76 84.56,255.91 83.71,256.71 83.93,257.87 82.9,257.3 81.87,257.87 82.09,256.71 81.24,255.91 82.4,255.76" fill="#000"/>
<polygon points="88.1,256.9 88.6,257.96 89.76,258.11 88.91,258.91 89.13,260.07 88.1,259.5 87.07,260.07 87.29,258.91 86.44,258.11 87.6,257.96" fill="#000"/>
<polygon points="93.1,256.3 93.6,257.36 94.76,257.51 93.91,258.31 94.13,259.47 93.1,258.9 92.07,259.47 92.29,258.31 91.44,257.51 92.6,257.36" fill="#000"/>
<circle cx="107.7" cy="263.7" r="1.8" fill="#707070" stroke="#404040" stroke-width="1.0"/>
<circle cx="112.2" cy="264.2" r="1.8" fill="#707070" stroke="#404040" stroke-width="1.0"/>
<circle cx="107.7" cy="267.6" r="1.8" fill="#707070" stroke="#404040" stroke-width="1.0"/>
<circle cx="112.2" cy="266.4" r="1.8" fill="#707070" stroke="#404040" stroke-width="1.0"/>
<circle cx="110" cy="271" r="1.8" fill="#707070" stroke="#404040" stroke-width="1.0"/>
<circle cx="107.7" cy="270.5" r="1.8" fill="#707070" stroke="#404040" stroke-width="1.0"/>
<line x1="36.3" y1="262.5" x2="49.8" y2="262.5" stroke="#000" stroke-width="0.95"/>
<line x1="58.7" y1="245.5" x2="73.2" y2="245.5" stroke="#000" stroke-width="0.95"/>
<line x1="80.6" y1="247.5" x2="95.8" y2="247.5" stroke="#000" stroke-width="0.95"/>
<line x1="103.2" y1="268.5" x2="117.9" y2="268.5" stroke="#000" stroke-width="0.95"/>
<line x1="164.8" y1="184.4" x2="164.8" y2="273.55" stroke="#4a4a4a" stroke-width="0.9"/>
<line x1="162.6" y1="273.1" x2="164.8" y2="273.1" stroke="#4a4a4a" stroke-width="0.8"/>
<text x="162.2" y="275.9" font-size="6.5" text-anchor="end" fill="#222">0</text>
<line x1="162.6" y1="258.32" x2="164.8" y2="258.32" stroke="#4a4a4a" stroke-width="0.8"/>
<text x="162.2" y="261.12" font-size="6.5" text-anchor="end" textLength="10.2" lengthAdjust="spacingAndGlyphs" fill="#222">100</text>
<line x1="162.6" y1="243.53" x2="164.8" y2="243.53" stroke="#4a4a4a" stroke-width="0.8"/>
<text x="162.2" y="246.33" font-size="6.5" text-anchor="end" textLength="10.2" lengthAdjust="spacingAndGlyphs" fill="#222">200</text>
<line x1="162.6" y1="228.75" x2="164.8" y2="228.75" stroke="#4a4a4a" stroke-width="0.8"/>
<text x="162.2" y="231.55" font-size="6.5" text-anchor="end" textLength="10.2" lengthAdjust="spacingAndGlyphs" fill="#222">300</text>
<line x1="162.6" y1="213.97" x2="164.8" y2="213.97" stroke="#4a4a4a" stroke-width="0.8"/>
<text x="162.2" y="216.77" font-size="6.5" text-anchor="end" textLength="10.2" lengthAdjust="spacingAndGlyphs" fill="#222">400</text>
<line x1="162.6" y1="199.18" x2="164.8" y2="199.18" stroke="#4a4a4a" stroke-width="0.8"/>
<text x="162.2" y="201.98" font-size="6.5" text-anchor="end" textLength="10.2" lengthAdjust="spacingAndGlyphs" fill="#222">500</text>
<line x1="162.6" y1="184.4" x2="164.8" y2="184.4" stroke="#4a4a4a" stroke-width="0.8"/>
<text x="162.2" y="187.2" font-size="6.5" text-anchor="end" textLength="10.2" lengthAdjust="spacingAndGlyphs" fill="#222">600</text>
<line x1="163.6" y1="265.71" x2="164.8" y2="265.71" stroke="#4a4a4a" stroke-width="0.7"/>
<line x1="163.6" y1="250.93" x2="164.8" y2="250.93" stroke="#4a4a4a" stroke-width="0.7"/>
<line x1="163.6" y1="236.14" x2="164.8" y2="236.14" stroke="#4a4a4a" stroke-width="0.7"/>
<line x1="163.6" y1="221.36" x2="164.8" y2="221.36" stroke="#4a4a4a" stroke-width="0.7"/>
<line x1="163.6" y1="206.58" x2="164.8" y2="206.58" stroke="#4a4a4a" stroke-width="0.7"/>
<line x1="163.6" y1="191.79" x2="164.8" y2="191.79" stroke="#4a4a4a" stroke-width="0.7"/>
<line x1="164.35" y1="273.1" x2="258" y2="273.1" stroke="#4a4a4a" stroke-width="0.9"/>
<line x1="176.1" y1="273.1" x2="176.1" y2="274.7" stroke="#4a4a4a" stroke-width="0.7"/>
<line x1="198.3" y1="273.1" x2="198.3" y2="274.7" stroke="#4a4a4a" stroke-width="0.7"/>
<line x1="220.6" y1="273.1" x2="220.6" y2="274.7" stroke="#4a4a4a" stroke-width="0.7"/>
<line x1="242.8" y1="273.1" x2="242.8" y2="274.7" stroke="#4a4a4a" stroke-width="0.7"/>
<text x="176.1" y="281.6" font-size="6.6" text-anchor="middle" textLength="4.9" lengthAdjust="spacingAndGlyphs" fill="#1a1a1a">O</text>
<text x="198.3" y="281.6" font-size="6.6" text-anchor="middle" textLength="5.3" lengthAdjust="spacingAndGlyphs" fill="#1a1a1a">M</text>
<text x="220.6" y="281.6" font-size="6.6" text-anchor="middle" textLength="12.6" lengthAdjust="spacingAndGlyphs" fill="#1a1a1a">Cnp</text>
<text x="242.8" y="281.6" font-size="6.6" text-anchor="middle" textLength="9.2" lengthAdjust="spacingAndGlyphs" fill="#1a1a1a">Cp</text>
<line x1="209.4" y1="191.9" x2="209.4" y2="292.5" stroke="#333" stroke-width="0.85" stroke-dasharray="2 1.85"/>
<polygon points="176.1,284.2 198.3,289.6 198.3,293.5 176.1,293.5" fill="#000"/>
<text x="177.7" y="292.5" font-size="7" textLength="11" lengthAdjust="spacingAndGlyphs" fill="#fff" class="w">age</text>
<polygon points="220.6,284.2 242.8,289.6 242.8,293.5 220.6,293.5" fill="#000"/>
<text x="222.2" y="292.6" font-size="7.2" textLength="12.6" lengthAdjust="spacingAndGlyphs" font-weight="normal" fill="#fff" class="w">CD4</text>
<text x="186.6" y="307.2" font-size="7.6" text-anchor="middle" textLength="14.4" lengthAdjust="spacingAndGlyphs" fill="#111">HIV-</text>
<text x="235" y="307.2" font-size="7.6" text-anchor="middle" textLength="16" lengthAdjust="spacingAndGlyphs" fill="#111">HIV+</text>
<line x1="217.9" y1="188.5" x2="242.1" y2="188.5" stroke="#555" stroke-width="0.75"/>
<circle cx="228.7" cy="185.5" r="1.1" fill="#111"/>
<circle cx="231.3" cy="185.5" r="1.1" fill="#111"/>
<text x="177.7" y="175.9" font-size="8.2" textLength="69.3" lengthAdjust="spacingAndGlyphs" fill="#111">Naïve CD8+ T cells</text>
<text transform="translate(144.4,271.3) rotate(-90)" x="0" y="0" font-size="7.9" textLength="88.1" lengthAdjust="spacingAndGlyphs" fill="#111">Absolute count (cell/µl)</text>
<circle cx="176.1" cy="262.7" r="1.8" fill="#fff" stroke="#222" stroke-width="1.0"/>
<circle cx="195.3" cy="233.9" r="1.8" fill="#7c7c7c" stroke="#151515" stroke-width="1.0"/>
<circle cx="195.3" cy="236" r="1.8" fill="#7c7c7c" stroke="#151515" stroke-width="1.0"/>
<circle cx="201" cy="233.9" r="1.8" fill="#7c7c7c" stroke="#151515" stroke-width="1.0"/>
<circle cx="201" cy="236" r="1.8" fill="#7c7c7c" stroke="#151515" stroke-width="1.0"/>
<circle cx="195.8" cy="243.1" r="1.8" fill="#7c7c7c" stroke="#151515" stroke-width="1.0"/>
<circle cx="199.4" cy="242.4" r="1.8" fill="#7c7c7c" stroke="#151515" stroke-width="1.0"/>
<circle cx="194.8" cy="245.6" r="1.8" fill="#7c7c7c" stroke="#151515" stroke-width="1.0"/>
<circle cx="200.6" cy="246" r="1.8" fill="#7c7c7c" stroke="#151515" stroke-width="1.0"/>
<circle cx="197.7" cy="247.6" r="1.8" fill="#7c7c7c" stroke="#151515" stroke-width="1.0"/>
<circle cx="192.9" cy="251.1" r="1.8" fill="#7c7c7c" stroke="#151515" stroke-width="1.0"/>
<circle cx="197.4" cy="251.6" r="1.8" fill="#7c7c7c" stroke="#151515" stroke-width="1.0"/>
<circle cx="203.9" cy="252.4" r="1.8" fill="#7c7c7c" stroke="#151515" stroke-width="1.0"/>
<circle cx="196.1" cy="254.8" r="1.8" fill="#7c7c7c" stroke="#151515" stroke-width="1.0"/>
<circle cx="195.3" cy="258" r="1.8" fill="#7c7c7c" stroke="#151515" stroke-width="1.0"/>
<circle cx="200.2" cy="258" r="1.8" fill="#7c7c7c" stroke="#151515" stroke-width="1.0"/>
<circle cx="195.3" cy="261.3" r="1.8" fill="#7c7c7c" stroke="#151515" stroke-width="1.0"/>
<circle cx="201" cy="261.3" r="1.8" fill="#7c7c7c" stroke="#151515" stroke-width="1.0"/>
<circle cx="195.3" cy="263.7" r="1.8" fill="#7c7c7c" stroke="#151515" stroke-width="1.0"/>
<circle cx="201" cy="264.5" r="1.8" fill="#7c7c7c" stroke="#151515" stroke-width="1.0"/>
<circle cx="195.3" cy="267.3" r="1.8" fill="#7c7c7c" stroke="#151515" stroke-width="1.0"/>
<polygon points="220.3,198.4 220.8,199.46 221.96,199.61 221.11,200.41 221.33,201.57 220.3,201 219.27,201.57 219.49,200.41 218.64,199.61 219.8,199.46" fill="#000"/>
<polygon points="220.3,217.8 220.8,218.86 221.96,219.01 221.11,219.81 221.33,220.97 220.3,220.4 219.27,220.97 219.49,219.81 218.64,219.01 219.8,218.86" fill="#000"/>
<polygon points="217.6,230.4 218.1,231.46 219.26,231.61 218.41,232.41 218.63,233.57 217.6,233 216.57,233.57 216.79,232.41 215.94,231.61 217.1,231.46" fill="#000"/>
<polygon points="222.8,230.4 223.3,231.46 224.46,231.61 223.61,232.41 223.83,233.57 222.8,233 221.77,233.57 221.99,232.41 221.14,231.61 222.3,231.46" fill="#000"/>
<polygon points="217.6,241.3 218.1,242.36 219.26,242.51 218.41,243.31 218.63,244.47 217.6,243.9 216.57,244.47 216.79,243.31 215.94,242.51 217.1,242.36" fill="#000"/>
<polygon points="222.8,241.3 223.3,242.36 224.46,242.51 223.61,243.31 223.83,244.47 222.8,243.9 221.77,244.47 221.99,243.31 221.14,242.51 222.3,242.36" fill="#000"/>
<polygon points="215.1,245.1 215.6,246.16 216.76,246.31 215.91,247.11 216.13,248.27 215.1,247.7 214.07,248.27 214.29,247.11 213.44,246.31 214.6,246.16" fill="#000"/>
<polygon points="220.5,245.1 221,246.16 222.16,246.31 221.31,247.11 221.53,248.27 220.5,247.7 219.47,248.27 219.69,247.11 218.84,246.31 220,246.16" fill="#000"/>
<polygon points="225.3,245.1 225.8,246.16 226.96,246.31 226.11,247.11 226.33,248.27 225.3,247.7 224.27,248.27 224.49,247.11 223.64,246.31 224.8,246.16" fill="#000"/>
<polygon points="217.6,260.1 218.1,261.16 219.26,261.31 218.41,262.11 218.63,263.27 217.6,262.7 216.57,263.27 216.79,262.11 215.94,261.31 217.1,261.16" fill="#000"/>
<polygon points="222.8,260.1 223.3,261.16 224.46,261.31 223.61,262.11 223.83,263.27 222.8,262.7 221.77,263.27 221.99,262.11 221.14,261.31 222.3,261.16" fill="#000"/>
<polygon points="220.5,270.7 221,271.76 222.16,271.91 221.31,272.71 221.53,273.87 220.5,273.3 219.47,273.87 219.69,272.71 218.84,271.91 220,271.76" fill="#000"/>
<circle cx="239.9" cy="253.3" r="1.8" fill="#707070" stroke="#404040" stroke-width="1.0"/>
<circle cx="245.3" cy="250" r="1.8" fill="#707070" stroke="#404040" stroke-width="1.0"/>
<circle cx="237" cy="261.7" r="1.8" fill="#707070" stroke="#404040" stroke-width="1.0"/>
<circle cx="242.2" cy="261.7" r="1.8" fill="#707070" stroke="#404040" stroke-width="1.0"/>
<circle cx="248" cy="260.7" r="1.8" fill="#707070" stroke="#404040" stroke-width="1.0"/>
<circle cx="237" cy="268.1" r="1.8" fill="#707070" stroke="#404040" stroke-width="1.0"/>
<circle cx="239.9" cy="266.1" r="1.8" fill="#707070" stroke="#404040" stroke-width="1.0"/>
<circle cx="245.7" cy="267.5" r="1.8" fill="#707070" stroke="#404040" stroke-width="1.0"/>
<circle cx="247.6" cy="268.4" r="1.8" fill="#707070" stroke="#404040" stroke-width="1.0"/>
<circle cx="242.8" cy="270.8" r="1.8" fill="#707070" stroke="#404040" stroke-width="1.0"/>
<circle cx="173.1" cy="272.3" r="1.8" fill="#333" stroke="#111" stroke-width="1.0"/>
<circle cx="176.3" cy="270.7" r="1.8" fill="#333" stroke="#111" stroke-width="1.0"/>
<circle cx="179.5" cy="272.3" r="1.8" fill="#333" stroke="#111" stroke-width="1.0"/>
<circle cx="174.7" cy="273.1" r="1.8" fill="#333" stroke="#111" stroke-width="1.0"/>
<circle cx="177.9" cy="273.1" r="1.8" fill="#333" stroke="#111" stroke-width="1.0"/>
<line x1="169" y1="271.5" x2="183.5" y2="271.5" stroke="#000" stroke-width="0.95"/>
<line x1="191.6" y1="251.5" x2="205" y2="251.5" stroke="#000" stroke-width="0.95"/>
<line x1="213.1" y1="244.5" x2="227.9" y2="244.5" stroke="#000" stroke-width="0.95"/>
<line x1="235" y1="264.5" x2="250" y2="264.5" stroke="#000" stroke-width="0.95"/>
<line x1="297.8" y1="184.4" x2="297.8" y2="273.75" stroke="#4a4a4a" stroke-width="0.9"/>
<line x1="295.6" y1="273.3" x2="297.8" y2="273.3" stroke="#4a4a4a" stroke-width="0.8"/>
<text x="295.2" y="276.1" font-size="6.5" text-anchor="end" fill="#222">0</text>
<line x1="295.6" y1="260.6" x2="297.8" y2="260.6" stroke="#4a4a4a" stroke-width="0.8"/>
<text x="295.2" y="263.4" font-size="6.5" text-anchor="end" textLength="10.3" lengthAdjust="spacingAndGlyphs" fill="#222">100</text>
<line x1="295.6" y1="247.9" x2="297.8" y2="247.9" stroke="#4a4a4a" stroke-width="0.8"/>
<text x="295.2" y="250.7" font-size="6.5" text-anchor="end" textLength="10.3" lengthAdjust="spacingAndGlyphs" fill="#222">200</text>
<line x1="295.6" y1="235.2" x2="297.8" y2="235.2" stroke="#4a4a4a" stroke-width="0.8"/>
<text x="295.2" y="238" font-size="6.5" text-anchor="end" textLength="10.3" lengthAdjust="spacingAndGlyphs" fill="#222">300</text>
<line x1="295.6" y1="222.5" x2="297.8" y2="222.5" stroke="#4a4a4a" stroke-width="0.8"/>
<text x="295.2" y="225.3" font-size="6.5" text-anchor="end" textLength="10.3" lengthAdjust="spacingAndGlyphs" fill="#222">400</text>
<line x1="295.6" y1="209.8" x2="297.8" y2="209.8" stroke="#4a4a4a" stroke-width="0.8"/>
<text x="295.2" y="212.6" font-size="6.5" text-anchor="end" textLength="10.3" lengthAdjust="spacingAndGlyphs" fill="#222">500</text>
<line x1="295.6" y1="197.1" x2="297.8" y2="197.1" stroke="#4a4a4a" stroke-width="0.8"/>
<text x="295.2" y="199.9" font-size="6.5" text-anchor="end" textLength="10.3" lengthAdjust="spacingAndGlyphs" fill="#222">600</text>
<line x1="295.6" y1="184.4" x2="297.8" y2="184.4" stroke="#4a4a4a" stroke-width="0.8"/>
<text x="295.2" y="187.2" font-size="6.5" text-anchor="end" textLength="10.3" lengthAdjust="spacingAndGlyphs" fill="#222">700</text>
<line x1="296.6" y1="266.95" x2="297.8" y2="266.95" stroke="#4a4a4a" stroke-width="0.7"/>
<line x1="296.6" y1="254.25" x2="297.8" y2="254.25" stroke="#4a4a4a" stroke-width="0.7"/>
<line x1="296.6" y1="241.55" x2="297.8" y2="241.55" stroke="#4a4a4a" stroke-width="0.7"/>
<line x1="296.6" y1="228.85" x2="297.8" y2="228.85" stroke="#4a4a4a" stroke-width="0.7"/>
<line x1="296.6" y1="216.15" x2="297.8" y2="216.15" stroke="#4a4a4a" stroke-width="0.7"/>
<line x1="296.6" y1="203.45" x2="297.8" y2="203.45" stroke="#4a4a4a" stroke-width="0.7"/>
<line x1="296.6" y1="190.75" x2="297.8" y2="190.75" stroke="#4a4a4a" stroke-width="0.7"/>
<line x1="297.35" y1="273.3" x2="387" y2="273.3" stroke="#4a4a4a" stroke-width="0.9"/>
<line x1="308.8" y1="273.3" x2="308.8" y2="274.9" stroke="#4a4a4a" stroke-width="0.7"/>
<line x1="331.5" y1="273.3" x2="331.5" y2="274.9" stroke="#4a4a4a" stroke-width="0.7"/>
<line x1="353.6" y1="273.3" x2="353.6" y2="274.9" stroke="#4a4a4a" stroke-width="0.7"/>
<line x1="375.8" y1="273.3" x2="375.8" y2="274.9" stroke="#4a4a4a" stroke-width="0.7"/>
<text x="308.8" y="282.3" font-size="6.6" text-anchor="middle" textLength="4.9" lengthAdjust="spacingAndGlyphs" fill="#1a1a1a">O</text>
<text x="331.5" y="282.3" font-size="6.6" text-anchor="middle" textLength="5.3" lengthAdjust="spacingAndGlyphs" fill="#1a1a1a">M</text>
<text x="353.6" y="282.3" font-size="6.6" text-anchor="middle" textLength="12.6" lengthAdjust="spacingAndGlyphs" fill="#1a1a1a">Cnp</text>
<text x="375.8" y="282.3" font-size="6.6" text-anchor="middle" textLength="9.2" lengthAdjust="spacingAndGlyphs" fill="#1a1a1a">Cp</text>
<line x1="342.2" y1="191.8" x2="342.2" y2="292.5" stroke="#666" stroke-width="0.85" stroke-dasharray="2 1.85"/>
<polygon points="308.8,284.2 331.5,289.6 331.5,293.5 308.8,293.5" fill="#000"/>
<text x="310.4" y="292.5" font-size="7" textLength="11" lengthAdjust="spacingAndGlyphs" fill="#fff" class="w">age</text>
<polygon points="353.6,284.2 375.8,289.6 375.8,293.5 353.6,293.5" fill="#000"/>
<text x="355.2" y="292.6" font-size="7.2" textLength="12.6" lengthAdjust="spacingAndGlyphs" font-weight="normal" fill="#fff" class="w">CD4</text>
<text x="319.2" y="307.2" font-size="7.6" text-anchor="middle" textLength="14.4" lengthAdjust="spacingAndGlyphs" fill="#111">HIV-</text>
<text x="367.7" y="307.2" font-size="7.6" text-anchor="middle" textLength="16" lengthAdjust="spacingAndGlyphs" fill="#111">HIV+</text>
<line x1="351.3" y1="188.5" x2="374.4" y2="188.5" stroke="#555" stroke-width="0.75"/>
<circle cx="361.2" cy="185.3" r="1.1" fill="#111"/>
<circle cx="363.8" cy="185.3" r="1.1" fill="#111"/>
<text x="330" y="175.9" font-size="8.2" textLength="25" lengthAdjust="spacingAndGlyphs" fill="#111">B cells</text>
<text transform="translate(278.7,270.1) rotate(-90)" x="0" y="0" font-size="7.9" textLength="87.4" lengthAdjust="spacingAndGlyphs" fill="#111">Absolute count (cell/µl)</text>
<circle cx="308.8" cy="219" r="1.8" fill="#fff" stroke="#222" stroke-width="1.0"/>
<circle cx="308.8" cy="236.4" r="1.8" fill="#fff" stroke="#222" stroke-width="1.0"/>
<circle cx="303.9" cy="251.3" r="1.8" fill="#fff" stroke="#222" stroke-width="1.0"/>
<circle cx="309.2" cy="252.9" r="1.8" fill="#fff" stroke="#222" stroke-width="1.0"/>
<circle cx="314.4" cy="250.6" r="1.8" fill="#fff" stroke="#222" stroke-width="1.0"/>
<circle cx="306.6" cy="256.6" r="1.8" fill="#fff" stroke="#222" stroke-width="1.0"/>
<circle cx="311.1" cy="256.1" r="1.8" fill="#fff" stroke="#222" stroke-width="1.0"/>
<circle cx="312.4" cy="261.5" r="1.8" fill="#fff" stroke="#222" stroke-width="1.0"/>
<circle cx="303.9" cy="263.9" r="1.8" fill="#fff" stroke="#222" stroke-width="1.0"/>
<circle cx="315.2" cy="264.2" r="1.8" fill="#fff" stroke="#222" stroke-width="1.0"/>
<circle cx="303.4" cy="271.1" r="1.8" fill="#fff" stroke="#222" stroke-width="1.0"/>
<circle cx="307.4" cy="271.4" r="1.8" fill="#fff" stroke="#222" stroke-width="1.0"/>
<circle cx="311.3" cy="271.4" r="1.8" fill="#fff" stroke="#222" stroke-width="1.0"/>
<circle cx="315" cy="271.1" r="1.8" fill="#fff" stroke="#222" stroke-width="1.0"/>
<circle cx="331.3" cy="197.1" r="1.8" fill="#7c7c7c" stroke="#151515" stroke-width="1.0"/>
<circle cx="326" cy="227" r="1.8" fill="#7c7c7c" stroke="#151515" stroke-width="1.0"/>
<circle cx="331.3" cy="227.6" r="1.8" fill="#7c7c7c" stroke="#151515" stroke-width="1.0"/>
<circle cx="336.7" cy="226.7" r="1.8" fill="#7c7c7c" stroke="#151515" stroke-width="1.0"/>
<circle cx="331.3" cy="234.3" r="1.8" fill="#7c7c7c" stroke="#151515" stroke-width="1.0"/>
<circle cx="328.7" cy="237.3" r="1.8" fill="#7c7c7c" stroke="#151515" stroke-width="1.0"/>
<circle cx="334" cy="239" r="1.8" fill="#7c7c7c" stroke="#151515" stroke-width="1.0"/>
<circle cx="333.7" cy="240" r="1.8" fill="#7c7c7c" stroke="#151515" stroke-width="1.0"/>
<circle cx="328.1" cy="241.6" r="1.8" fill="#7c7c7c" stroke="#151515" stroke-width="1.0"/>
<circle cx="333.7" cy="243.7" r="1.8" fill="#7c7c7c" stroke="#151515" stroke-width="1.0"/>
<circle cx="333.7" cy="246.5" r="1.8" fill="#7c7c7c" stroke="#151515" stroke-width="1.0"/>
<circle cx="328.1" cy="248.5" r="1.8" fill="#7c7c7c" stroke="#151515" stroke-width="1.0"/>
<circle cx="333.7" cy="249.4" r="1.8" fill="#7c7c7c" stroke="#151515" stroke-width="1.0"/>
<circle cx="329.7" cy="251.8" r="1.8" fill="#7c7c7c" stroke="#151515" stroke-width="1.0"/>
<circle cx="325.6" cy="255.5" r="1.8" fill="#7c7c7c" stroke="#151515" stroke-width="1.0"/>
<circle cx="331.3" cy="255.5" r="1.8" fill="#7c7c7c" stroke="#151515" stroke-width="1.0"/>
<circle cx="336.9" cy="255" r="1.8" fill="#7c7c7c" stroke="#151515" stroke-width="1.0"/>
<circle cx="328.1" cy="259" r="1.8" fill="#7c7c7c" stroke="#151515" stroke-width="1.0"/>
<circle cx="333.7" cy="259" r="1.8" fill="#7c7c7c" stroke="#151515" stroke-width="1.0"/>
<circle cx="328.1" cy="263.1" r="1.8" fill="#7c7c7c" stroke="#151515" stroke-width="1.0"/>
<circle cx="333.7" cy="263.1" r="1.8" fill="#7c7c7c" stroke="#151515" stroke-width="1.0"/>
<circle cx="305.5" cy="259.8" r="1.8" fill="#7c7c7c" stroke="#151515" stroke-width="1.0"/>
<circle cx="310.3" cy="259" r="1.8" fill="#7c7c7c" stroke="#151515" stroke-width="1.0"/>
<circle cx="308.7" cy="264.2" r="1.8" fill="#7c7c7c" stroke="#151515" stroke-width="1.0"/>
<circle cx="306.8" cy="267.6" r="1.8" fill="#7c7c7c" stroke="#151515" stroke-width="1.0"/>
<circle cx="310.2" cy="267" r="1.8" fill="#7c7c7c" stroke="#151515" stroke-width="1.0"/>
<polygon points="353.3,247.3 353.8,248.36 354.96,248.51 354.11,249.31 354.33,250.47 353.3,249.9 352.27,250.47 352.49,249.31 351.64,248.51 352.8,248.36" fill="#000"/>
<polygon points="350.7,253.4 351.2,254.46 352.36,254.61 351.51,255.41 351.73,256.57 350.7,256 349.67,256.57 349.89,255.41 349.04,254.61 350.2,254.46" fill="#000"/>
<polygon points="356.1,253.2 356.6,254.26 357.76,254.41 356.91,255.21 357.13,256.37 356.1,255.8 355.07,256.37 355.29,255.21 354.44,254.41 355.6,254.26" fill="#000"/>
<polygon points="356.1,256.4 356.6,257.46 357.76,257.61 356.91,258.41 357.13,259.57 356.1,259 355.07,259.57 355.29,258.41 354.44,257.61 355.6,257.46" fill="#000"/>
<polygon points="348,261.4 348.5,262.46 349.66,262.61 348.81,263.41 349.03,264.57 348,264 346.97,264.57 347.19,263.41 346.34,262.61 347.5,262.46" fill="#000"/>
<polygon points="351.5,261.4 352,262.46 353.16,262.61 352.31,263.41 352.53,264.57 351.5,264 350.47,264.57 350.69,263.41 349.84,262.61 351,262.46" fill="#000"/>
<polygon points="353.7,262.9 354.2,263.96 355.36,264.11 354.51,264.91 354.73,266.07 353.7,265.5 352.67,266.07 352.89,264.91 352.04,264.11 353.2,263.96" fill="#000"/>
<polygon points="355.9,261.4 356.4,262.46 357.56,262.61 356.71,263.41 356.93,264.57 355.9,264 354.87,264.57 355.09,263.41 354.24,262.61 355.4,262.46" fill="#000"/>
<polygon points="358.9,261.4 359.4,262.46 360.56,262.61 359.71,263.41 359.93,264.57 358.9,264 357.87,264.57 358.09,263.41 357.24,262.61 358.4,262.46" fill="#000"/>
<circle cx="375.8" cy="241.3" r="1.8" fill="#707070" stroke="#404040" stroke-width="1.0"/>
<circle cx="372.7" cy="263.5" r="1.8" fill="#707070" stroke="#404040" stroke-width="1.0"/>
<circle cx="377.6" cy="263.9" r="1.8" fill="#707070" stroke="#404040" stroke-width="1.0"/>
<circle cx="370.2" cy="267.4" r="1.8" fill="#707070" stroke="#404040" stroke-width="1.0"/>
<circle cx="374.6" cy="266.5" r="1.8" fill="#707070" stroke="#404040" stroke-width="1.0"/>
<circle cx="379.4" cy="266.1" r="1.8" fill="#707070" stroke="#404040" stroke-width="1.0"/>
<circle cx="381.1" cy="267.8" r="1.8" fill="#707070" stroke="#404040" stroke-width="1.0"/>
<circle cx="375.9" cy="269.6" r="1.8" fill="#707070" stroke="#404040" stroke-width="1.0"/>
<circle cx="380.7" cy="269.6" r="1.8" fill="#707070" stroke="#404040" stroke-width="1.0"/>
<circle cx="370.2" cy="269.1" r="1.8" fill="#707070" stroke="#404040" stroke-width="1.0"/>
<line x1="302" y1="262.5" x2="316" y2="262.5" stroke="#000" stroke-width="0.95"/>
<line x1="324" y1="249.5" x2="338.5" y2="249.5" stroke="#000" stroke-width="0.95"/>
<line x1="346.7" y1="263.5" x2="360.7" y2="263.5" stroke="#000" stroke-width="0.95"/>
<line x1="368" y1="267.5" x2="382.9" y2="267.5" stroke="#000" stroke-width="0.95"/>
<line x1="427.9" y1="184.4" x2="427.9" y2="273.75" stroke="#4a4a4a" stroke-width="0.9"/>
<line x1="425.7" y1="273.3" x2="427.9" y2="273.3" stroke="#4a4a4a" stroke-width="0.8"/>
<text x="425.3" y="276.1" font-size="6.5" text-anchor="end" fill="#222">0</text>
<line x1="425.7" y1="260.6" x2="427.9" y2="260.6" stroke="#4a4a4a" stroke-width="0.8"/>
<text x="425.3" y="263.4" font-size="6.5" text-anchor="end" textLength="10.2" lengthAdjust="spacingAndGlyphs" fill="#222">100</text>
<line x1="425.7" y1="247.9" x2="427.9" y2="247.9" stroke="#4a4a4a" stroke-width="0.8"/>
<text x="425.3" y="250.7" font-size="6.5" text-anchor="end" textLength="10.2" lengthAdjust="spacingAndGlyphs" fill="#222">200</text>
<line x1="425.7" y1="235.2" x2="427.9" y2="235.2" stroke="#4a4a4a" stroke-width="0.8"/>
<text x="425.3" y="238" font-size="6.5" text-anchor="end" textLength="10.2" lengthAdjust="spacingAndGlyphs" fill="#222">300</text>
<line x1="425.7" y1="222.5" x2="427.9" y2="222.5" stroke="#4a4a4a" stroke-width="0.8"/>
<text x="425.3" y="225.3" font-size="6.5" text-anchor="end" textLength="10.2" lengthAdjust="spacingAndGlyphs" fill="#222">400</text>
<line x1="425.7" y1="209.8" x2="427.9" y2="209.8" stroke="#4a4a4a" stroke-width="0.8"/>
<text x="425.3" y="212.6" font-size="6.5" text-anchor="end" textLength="10.2" lengthAdjust="spacingAndGlyphs" fill="#222">500</text>
<line x1="425.7" y1="197.1" x2="427.9" y2="197.1" stroke="#4a4a4a" stroke-width="0.8"/>
<text x="425.3" y="199.9" font-size="6.5" text-anchor="end" textLength="10.2" lengthAdjust="spacingAndGlyphs" fill="#222">600</text>
<line x1="425.7" y1="184.4" x2="427.9" y2="184.4" stroke="#4a4a4a" stroke-width="0.8"/>
<text x="425.3" y="187.2" font-size="6.5" text-anchor="end" textLength="10.2" lengthAdjust="spacingAndGlyphs" fill="#222">700</text>
<line x1="426.7" y1="266.95" x2="427.9" y2="266.95" stroke="#4a4a4a" stroke-width="0.7"/>
<line x1="426.7" y1="254.25" x2="427.9" y2="254.25" stroke="#4a4a4a" stroke-width="0.7"/>
<line x1="426.7" y1="241.55" x2="427.9" y2="241.55" stroke="#4a4a4a" stroke-width="0.7"/>
<line x1="426.7" y1="228.85" x2="427.9" y2="228.85" stroke="#4a4a4a" stroke-width="0.7"/>
<line x1="426.7" y1="216.15" x2="427.9" y2="216.15" stroke="#4a4a4a" stroke-width="0.7"/>
<line x1="426.7" y1="203.45" x2="427.9" y2="203.45" stroke="#4a4a4a" stroke-width="0.7"/>
<line x1="426.7" y1="190.75" x2="427.9" y2="190.75" stroke="#4a4a4a" stroke-width="0.7"/>
<line x1="427.45" y1="273.3" x2="517" y2="273.3" stroke="#4a4a4a" stroke-width="0.9"/>
<line x1="439" y1="273.3" x2="439" y2="274.9" stroke="#4a4a4a" stroke-width="0.7"/>
<line x1="461.8" y1="273.3" x2="461.8" y2="274.9" stroke="#4a4a4a" stroke-width="0.7"/>
<line x1="483.6" y1="273.3" x2="483.6" y2="274.9" stroke="#4a4a4a" stroke-width="0.7"/>
<line x1="505.9" y1="273.3" x2="505.9" y2="274.9" stroke="#4a4a4a" stroke-width="0.7"/>
<text x="439" y="282.3" font-size="6.6" text-anchor="middle" textLength="4.9" lengthAdjust="spacingAndGlyphs" fill="#1a1a1a">O</text>
<text x="461.8" y="282.3" font-size="6.6" text-anchor="middle" textLength="5.3" lengthAdjust="spacingAndGlyphs" fill="#1a1a1a">M</text>
<text x="483.6" y="282.3" font-size="6.6" text-anchor="middle" textLength="12.6" lengthAdjust="spacingAndGlyphs" fill="#1a1a1a">Cnp</text>
<text x="505.9" y="282.3" font-size="6.6" text-anchor="middle" textLength="9.2" lengthAdjust="spacingAndGlyphs" fill="#1a1a1a">Cp</text>
<line x1="472" y1="191.8" x2="472" y2="292.5" stroke="#999" stroke-width="1.1" stroke-dasharray="2 1.85"/>
<polygon points="439,284.2 461.8,289.6 461.8,293.5 439,293.5" fill="#000"/>
<text x="440.6" y="292.5" font-size="7" textLength="11" lengthAdjust="spacingAndGlyphs" fill="#fff" class="w">age</text>
<polygon points="483.6,284.2 505.9,289.6 505.9,293.5 483.6,293.5" fill="#000"/>
<text x="485.2" y="292.6" font-size="7.2" textLength="12.6" lengthAdjust="spacingAndGlyphs" font-weight="normal" fill="#fff" class="w">CD4</text>
<text x="449.2" y="307.2" font-size="7.6" text-anchor="middle" textLength="14.4" lengthAdjust="spacingAndGlyphs" fill="#111">HIV-</text>
<text x="497.7" y="307.2" font-size="7.6" text-anchor="middle" textLength="16" lengthAdjust="spacingAndGlyphs" fill="#111">HIV+</text>
<text x="459.7" y="175.9" font-size="8.2" textLength="30.2" lengthAdjust="spacingAndGlyphs" fill="#111">NK cells</text>
<text transform="translate(408.4,268.6) rotate(-90)" x="0" y="0" font-size="7.9" textLength="86.1" lengthAdjust="spacingAndGlyphs" fill="#111">Absolute count (cell/µl)</text>
<circle cx="439.3" cy="204.3" r="1.8" fill="#fff" stroke="#222" stroke-width="1.0"/>
<circle cx="439.2" cy="224.8" r="1.8" fill="#fff" stroke="#222" stroke-width="1.0"/>
<circle cx="439.2" cy="231.6" r="1.8" fill="#fff" stroke="#222" stroke-width="1.0"/>
<circle cx="441.8" cy="237.4" r="1.8" fill="#fff" stroke="#222" stroke-width="1.0"/>
<circle cx="436.3" cy="241.5" r="1.8" fill="#fff" stroke="#222" stroke-width="1.0"/>
<circle cx="436.3" cy="248.4" r="1.8" fill="#fff" stroke="#222" stroke-width="1.0"/>
<circle cx="440.3" cy="248.8" r="1.8" fill="#fff" stroke="#222" stroke-width="1.0"/>
<circle cx="442.2" cy="248.4" r="1.8" fill="#fff" stroke="#222" stroke-width="1.0"/>
<circle cx="438.4" cy="251" r="1.8" fill="#fff" stroke="#222" stroke-width="1.0"/>
<circle cx="442.2" cy="252.2" r="1.8" fill="#fff" stroke="#222" stroke-width="1.0"/>
<circle cx="436.3" cy="254.6" r="1.8" fill="#fff" stroke="#222" stroke-width="1.0"/>
<circle cx="442.2" cy="254.6" r="1.8" fill="#fff" stroke="#222" stroke-width="1.0"/>
<circle cx="434.4" cy="261.5" r="1.8" fill="#fff" stroke="#222" stroke-width="1.0"/>
<circle cx="438.4" cy="261.5" r="1.8" fill="#fff" stroke="#222" stroke-width="1.0"/>
<circle cx="444.2" cy="260.9" r="1.8" fill="#fff" stroke="#222" stroke-width="1.0"/>
<circle cx="439.5" cy="263.3" r="1.8" fill="#fff" stroke="#222" stroke-width="1.0"/>
<circle cx="434.4" cy="265.5" r="1.8" fill="#fff" stroke="#222" stroke-width="1.0"/>
<circle cx="440.7" cy="265.2" r="1.8" fill="#fff" stroke="#222" stroke-width="1.0"/>
<circle cx="444.2" cy="265.5" r="1.8" fill="#fff" stroke="#222" stroke-width="1.0"/>
<circle cx="439.2" cy="268.7" r="1.8" fill="#fff" stroke="#222" stroke-width="1.0"/>
<circle cx="458.8" cy="220.4" r="1.8" fill="#7c7c7c" stroke="#151515" stroke-width="1.0"/>
<circle cx="464.1" cy="218.3" r="1.8" fill="#7c7c7c" stroke="#151515" stroke-width="1.0"/>
<circle cx="461.5" cy="227.1" r="1.8" fill="#7c7c7c" stroke="#151515" stroke-width="1.0"/>
<circle cx="458.8" cy="234.6" r="1.8" fill="#7c7c7c" stroke="#151515" stroke-width="1.0"/>
<circle cx="464.1" cy="233.8" r="1.8" fill="#7c7c7c" stroke="#151515" stroke-width="1.0"/>
<circle cx="458.4" cy="240.5" r="1.8" fill="#7c7c7c" stroke="#151515" stroke-width="1.0"/>
<circle cx="464" cy="239.7" r="1.8" fill="#7c7c7c" stroke="#151515" stroke-width="1.0"/>
<circle cx="467.2" cy="241.5" r="1.8" fill="#7c7c7c" stroke="#151515" stroke-width="1.0"/>
<circle cx="455.8" cy="243" r="1.8" fill="#7c7c7c" stroke="#151515" stroke-width="1.0"/>
<circle cx="461.6" cy="243" r="1.8" fill="#7c7c7c" stroke="#151515" stroke-width="1.0"/>
<circle cx="459.9" cy="244.4" r="1.8" fill="#7c7c7c" stroke="#151515" stroke-width="1.0"/>
<circle cx="455.8" cy="245.5" r="1.8" fill="#7c7c7c" stroke="#151515" stroke-width="1.0"/>
<circle cx="467.2" cy="247.8" r="1.8" fill="#7c7c7c" stroke="#151515" stroke-width="1.0"/>
<circle cx="461.3" cy="249.5" r="1.8" fill="#7c7c7c" stroke="#151515" stroke-width="1.0"/>
<circle cx="463.5" cy="252.2" r="1.8" fill="#7c7c7c" stroke="#151515" stroke-width="1.0"/>
<circle cx="459.9" cy="253.2" r="1.8" fill="#7c7c7c" stroke="#151515" stroke-width="1.0"/>
<circle cx="455.8" cy="255.6" r="1.8" fill="#7c7c7c" stroke="#151515" stroke-width="1.0"/>
<circle cx="461.3" cy="256.5" r="1.8" fill="#7c7c7c" stroke="#151515" stroke-width="1.0"/>
<circle cx="466.9" cy="255.1" r="1.8" fill="#7c7c7c" stroke="#151515" stroke-width="1.0"/>
<circle cx="458.7" cy="268.4" r="1.8" fill="#7c7c7c" stroke="#151515" stroke-width="1.0"/>
<circle cx="464" cy="267.7" r="1.8" fill="#7c7c7c" stroke="#151515" stroke-width="1.0"/>
<circle cx="440.3" cy="249.8" r="1.8" fill="#7c7c7c" stroke="#151515" stroke-width="1.0"/>
<circle cx="437.2" cy="253.6" r="1.8" fill="#7c7c7c" stroke="#151515" stroke-width="1.0"/>
<circle cx="441.8" cy="253.2" r="1.8" fill="#7c7c7c" stroke="#151515" stroke-width="1.0"/>
<circle cx="438.6" cy="263.2" r="1.8" fill="#7c7c7c" stroke="#151515" stroke-width="1.0"/>
<circle cx="441.2" cy="265.4" r="1.8" fill="#7c7c7c" stroke="#151515" stroke-width="1.0"/>
<polygon points="483.6,213.8 484.1,214.86 485.26,215.01 484.41,215.81 484.63,216.97 483.6,216.4 482.57,216.97 482.79,215.81 481.94,215.01 483.1,214.86" fill="#000"/>
<polygon points="483.6,229.6 484.1,230.66 485.26,230.81 484.41,231.61 484.63,232.77 483.6,232.2 482.57,232.77 482.79,231.61 481.94,230.81 483.1,230.66" fill="#000"/>
<polygon points="478.3,245.6 478.8,246.66 479.96,246.81 479.11,247.61 479.33,248.77 478.3,248.2 477.27,248.77 477.49,247.61 476.64,246.81 477.8,246.66" fill="#000"/>
<polygon points="483.6,244.7 484.1,245.76 485.26,245.91 484.41,246.71 484.63,247.87 483.6,247.3 482.57,247.87 482.79,246.71 481.94,245.91 483.1,245.76" fill="#000"/>
<polygon points="488.9,248.2 489.4,249.26 490.56,249.41 489.71,250.21 489.93,251.37 488.9,250.8 487.87,251.37 488.09,250.21 487.24,249.41 488.4,249.26" fill="#000"/>
<polygon points="483.6,250.4 484.1,251.46 485.26,251.61 484.41,252.41 484.63,253.57 483.6,253 482.57,253.57 482.79,252.41 481.94,251.61 483.1,251.46" fill="#000"/>
<polygon points="488.9,254.4 489.4,255.46 490.56,255.61 489.71,256.41 489.93,257.57 488.9,257 487.87,257.57 488.09,256.41 487.24,255.61 488.4,255.46" fill="#000"/>
<polygon points="478.3,255.7 478.8,256.76 479.96,256.91 479.11,257.71 479.33,258.87 478.3,258.3 477.27,258.87 477.49,257.71 476.64,256.91 477.8,256.76" fill="#000"/>
<polygon points="483.6,259.2 484.1,260.26 485.26,260.41 484.41,261.21 484.63,262.37 483.6,261.8 482.57,262.37 482.79,261.21 481.94,260.41 483.1,260.26" fill="#000"/>
<polygon points="478.3,266 478.8,267.06 479.96,267.21 479.11,268.01 479.33,269.17 478.3,268.6 477.27,269.17 477.49,268.01 476.64,267.21 477.8,267.06" fill="#000"/>
<polygon points="488.9,267.4 489.4,268.46 490.56,268.61 489.71,269.41 489.93,270.57 488.9,270 487.87,270.57 488.09,269.41 487.24,268.61 488.4,268.46" fill="#000"/>
<polygon points="483.6,269.9 484.1,270.96 485.26,271.11 484.41,271.91 484.63,273.07 483.6,272.5 482.57,273.07 482.79,271.91 481.94,271.11 483.1,270.96" fill="#000"/>
<circle cx="499.9" cy="253" r="1.8" fill="#707070" stroke="#404040" stroke-width="1.0"/>
<circle cx="510.9" cy="253" r="1.8" fill="#707070" stroke="#404040" stroke-width="1.0"/>
<circle cx="505.6" cy="258.3" r="1.8" fill="#707070" stroke="#404040" stroke-width="1.0"/>
<circle cx="499.9" cy="264.4" r="1.8" fill="#707070" stroke="#404040" stroke-width="1.0"/>
<circle cx="503.5" cy="263.7" r="1.8" fill="#707070" stroke="#404040" stroke-width="1.0"/>
<circle cx="508.4" cy="263.1" r="1.8" fill="#707070" stroke="#404040" stroke-width="1.0"/>
<circle cx="510.9" cy="266.7" r="1.8" fill="#707070" stroke="#404040" stroke-width="1.0"/>
<circle cx="505.6" cy="269" r="1.8" fill="#707070" stroke="#404040" stroke-width="1.0"/>
<line x1="432" y1="253.5" x2="446.8" y2="253.5" stroke="#000" stroke-width="0.95"/>
<line x1="454" y1="243.5" x2="466.4" y2="243.5" stroke="#000" stroke-width="0.95"/>
<line x1="476" y1="253.5" x2="491" y2="253.5" stroke="#888" stroke-width="0.95"/>
<line x1="498" y1="263.5" x2="512" y2="263.5" stroke="#555" stroke-width="0.95"/>
<text x="64.1" y="10.75" font-size="11.2" fill="#000" class="p">A</text>
<text x="328.9" y="10.8" font-size="11.2" fill="#000" class="p">B</text>
<text x="1.4" y="162.1" font-size="11.5" fill="#000" class="p">C</text>
</svg>
</body></html>
